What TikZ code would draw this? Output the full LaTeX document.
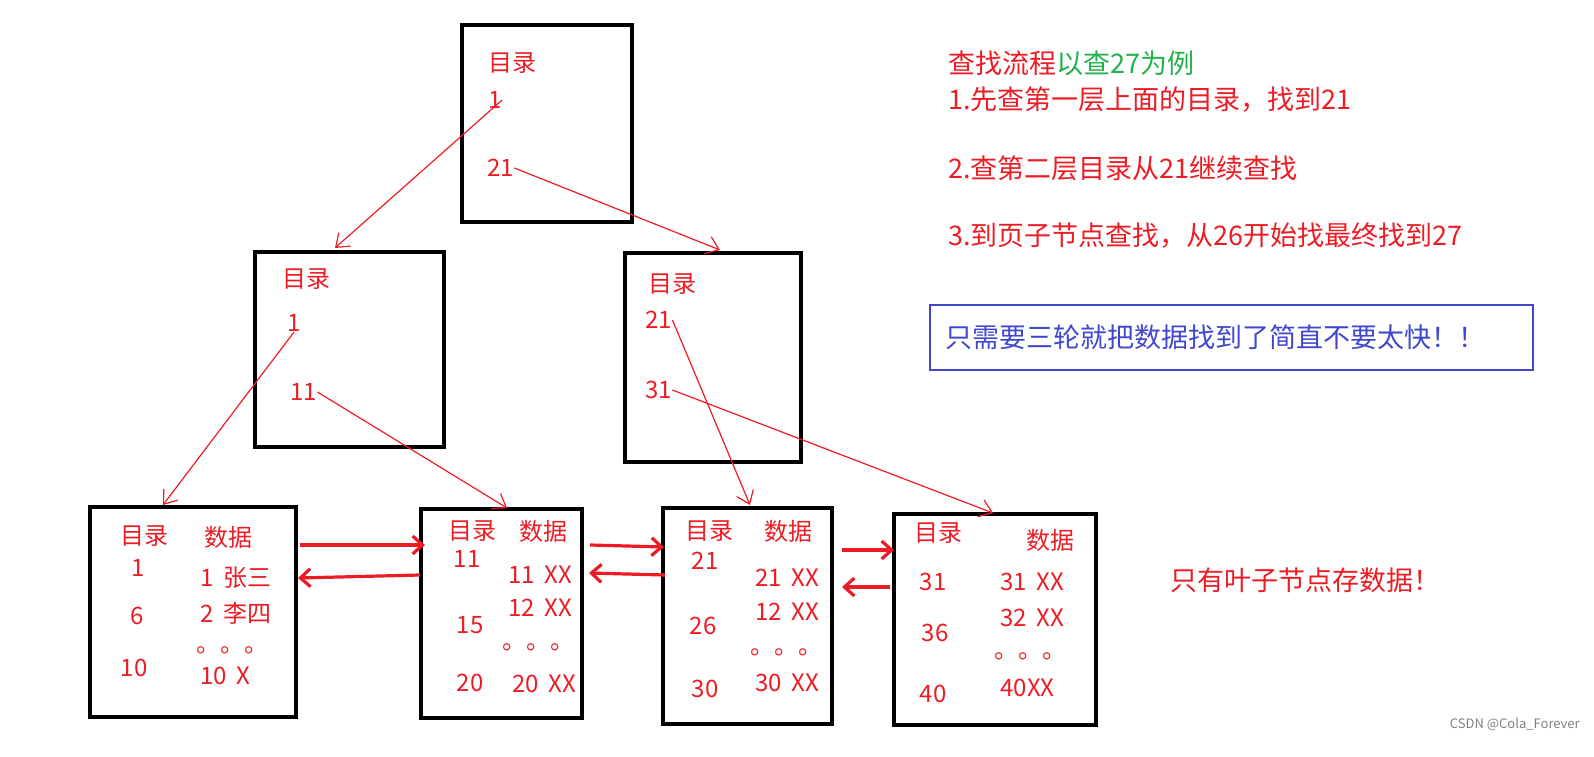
\documentclass[tikz,border=0pt]{standalone}
\usepackage{fontspec}
\setmainfont{Noto Sans CJK SC}
\usetikzlibrary{arrows.meta}
\definecolor{rd}{RGB}{236,28,36}
\definecolor{gr}{RGB}{34,177,76}
\definecolor{bl}{RGB}{63,72,204}
\tikzset{
 box/.style={draw=black,line width=2pt},
 tx/.style={text=rd,font=\fontsize{12}{14}\selectfont,inner sep=0pt},
 rt/.style={text=rd,font=\fontsize{13.5}{15}\selectfont,inner sep=0pt,anchor=west},
 lnk/.style={draw=rd,line width=0.6pt,-{Straight Barb[length=6pt,width=9pt]}},
 dbl/.style={draw=rd,line width=1.6pt,-{Straight Barb[length=5pt,width=9pt]}}
}
\begin{document}
\begin{tikzpicture}[x=0.5pt,y=-0.5pt]
\useasboundingbox (0,0) rectangle (1594,756);
% boxes
\draw[box] (462,25) rectangle (632,222);
\draw[box] (255,252) rectangle (444,447);
\draw[box] (625,253) rectangle (801,462);
\draw[box] (90,507) rectangle (296,717);
\draw[box] (421,509) rectangle (582,718);
\draw[box] (663,508) rectangle (832,724);
\draw[box] (894,514) rectangle (1096,725);
% root
\node[tx,anchor=west] (r0) at (488,63) {目录};
\node[tx,anchor=west] (r1) at (488,100) {1};
\node[tx,anchor=west] (r21) at (487,168) {21};
% L2 left
\node[tx,anchor=west] (a0) at (282,279) {目录};
\node[tx,anchor=west] (a1) at (287,323) {1};
\node[tx,anchor=west] (a11) at (290,392) {11};
% L2 right
\node[tx,anchor=west] (b0) at (648,284) {目录};
\node[tx,anchor=west] (b21) at (645,320) {21};
\node[tx,anchor=west] (b31) at (645,390) {31};
% leaf 1
\node[tx] (p1a) at (144,536) {目录};
\node[tx] (p1b) at (228,537) {数据};
\node[tx] (p1c) at (138,568) {1};
\node[tx,anchor=west] (p1d) at (200,578) {1\, 张三};
\node[tx] (p1e) at (137,616) {6};
\node[tx,anchor=west] (p1f) at (200,613) {2\, 李四};
\node[tx] (p1g) at (134,668) {10};
\node[tx,anchor=west] (p1h) at (196,650) {。。。};
\node[tx,anchor=west] (p1i) at (200,676) {10\, X};
% leaf 2
\node[tx] (p2a) at (472,531) {目录};
\node[tx] (p2b) at (543,531) {数据};
\node[tx] (p2c) at (467,559) {11};
\node[tx,anchor=west] (p2d) at (508,575) {11\, XX};
\node[tx] (p2e) at (470,625) {15};
\node[tx,anchor=west] (p2f) at (508,608) {12\, XX};
\node[tx,anchor=west] (p2g) at (502,647) {。。。};
\node[tx] (p2h) at (470,683) {20};
\node[tx,anchor=west] (p2i) at (512,684) {20\, XX};
% leaf 3
\node[tx] (p3a) at (709,531) {目录};
\node[tx] (p3b) at (788,531) {数据};
\node[tx] (p3c) at (705,561) {21};
\node[tx,anchor=west] (p3d) at (755,578) {21\, XX};
\node[tx] (p3e) at (703,626) {26};
\node[tx,anchor=west] (p3f) at (755,612) {12\, XX};
\node[tx,anchor=west] (p3g) at (750,652) {。。。};
\node[tx] (p3h) at (705,689) {30};
\node[tx,anchor=west] (p3i) at (755,683) {30\, XX};
% leaf 4
\node[tx] (p4a) at (938,533) {目录};
\node[tx] (p4b) at (1050,540) {数据};
\node[tx] (p4c) at (933,582) {31};
\node[tx,anchor=west] (p4d) at (1000,582) {31\, XX};
\node[tx] (p4e) at (935,633) {36};
\node[tx,anchor=west] (p4f) at (1000,618) {32\, XX};
\node[tx,anchor=west] (p4g) at (994,656) {。。。};
\node[tx] (p4h) at (933,694) {40};
\node[tx,anchor=west] (p4i) at (1000,688) {40XX};
% tree links
\coordinate (e1) at (335,248);
\coordinate (e2) at (720,250);
\coordinate (e3) at (163,505);
\coordinate (e4) at (507,508);
\coordinate (e5) at (750,505);
\coordinate (e6) at (993,513);
\draw[lnk] (r1.east) -- (e1);
\draw[lnk] (r21.east) -- (e2);
\draw[lnk] (a1.south) -- (e3);
\draw[lnk] (a11.east) -- (e4);
\draw[lnk] (b21.east) -- (e5);
\draw[lnk] (b31.east) -- (e6);
% leaf links
\coordinate (f1) at (300,545); \coordinate (f2) at (425,545);
\coordinate (f3) at (420,575); \coordinate (f4) at (298,578);
\coordinate (f5) at (590,545); \coordinate (f6) at (664,547);
\coordinate (f7) at (665,575); \coordinate (f8) at (589,573);
\coordinate (f9) at (842,550); \coordinate (f10) at (894,550);
\coordinate (f11) at (890,587); \coordinate (f12) at (842,587);
\draw[dbl] (f1) -- (f2); \draw[dbl] (f3) -- (f4);
\draw[dbl] (f5) -- (f6); \draw[dbl] (f7) -- (f8);
\draw[dbl] (f9) -- (f10); \draw[dbl] (f11) -- (f12);
% right text
\node[rt] (s0) at (948,63) {查找流程\textcolor{gr}{以查27为例}};
\node[rt] (s1) at (948,100) {1.先查第一层上面的目录，找到21};
\node[rt] (s2) at (948,168) {2.查第二层目录从21继续查找};
\node[rt] (s3) at (948,236) {3.到页子节点查找，从26开始找最终找到27};
\draw[draw=bl,line width=1.2pt] (930,305) rectangle (1533,370);
\node[rt,text=bl] (s4) at (945,337) {只需要三轮就把数据找到了简直不要太快！！};
\node[rt] (s5) at (1170,580) {只有叶子节点存数据！};
\node[anchor=east,text=gray,font=\fontsize{6.5}{8}\selectfont,inner sep=0pt] (wm) at (1580,724) {CSDN @Cola\_Forever};
\end{tikzpicture}
\end{document}
